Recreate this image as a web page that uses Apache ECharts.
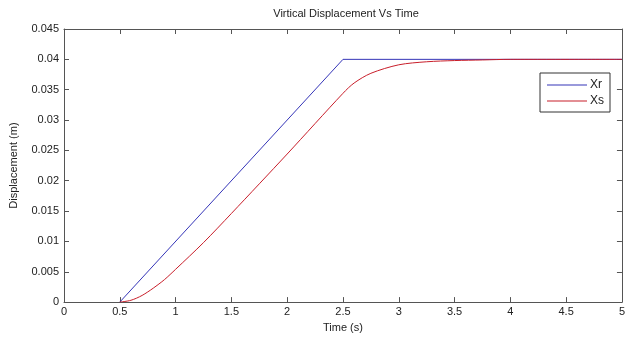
<!DOCTYPE html>
<html><head><meta charset="utf-8">
<script src="https://cdn.jsdelivr.net/npm/echarts@6/dist/echarts.min.js"></script>
<style>html,body{margin:0;padding:0;background:#fff}#c{width:628px;height:338px}</style>
</head><body><div id="c"></div>
<script>
const title = 'Virtical Displacement Vs Time';
const xName = 'Time (s)';
const yName = 'Displacement (m)';
const seriesNames = ['Xr', 'Xs'];
const xrT = [0.5, 2.5, 5];
const xrV = [0, 0.04, 0.04];
const xsT = [0.5, 0.6, 0.7, 0.8, 0.9, 1.0, 1.25, 1.5, 2.0, 2.5, 2.6, 2.75, 3.0, 3.25, 3.5, 3.75, 4.0, 5.0];
const xsV = [0, 0.0003, 0.0011, 0.0023, 0.0037, 0.0054, 0.0098, 0.0146, 0.0244, 0.0344, 0.0361, 0.0377, 0.0391, 0.0396, 0.0398, 0.0399, 0.04, 0.04];

const chart = echarts.init(document.getElementById('c'));
const fmt = v => String(parseFloat(v.toFixed(4)));
const axisColor = '#555';
const lab = {color: '#222', fontSize: 11, fontFamily: 'Liberation Sans, Arial'};
const tick = {show: true, inside: true, length: 5, lineStyle: {color: axisColor}};
const line = {show: true, onZero: false, lineStyle: {color: axisColor}};
chart.setOption({
  animation: false,
  backgroundColor: '#fff',
  title: {text: title, left: 341, top: 3, textAlign: 'center',
    textStyle: {fontSize: 11, fontWeight: 'normal', color: '#222', fontFamily: 'Liberation Sans, Arial'}},
  grid: {left: 61, right: 6, top: 29, bottom: 35},
  legend: {
    data: seriesNames, orient: 'vertical', left: 540, top: 73,
    icon: 'path://M0,0 L40,0 L40,1 L0,1 Z',
    itemWidth: 40, itemHeight: 1.2, itemGap: 4,
    borderColor: '#333', borderWidth: 1, padding: [6, 6, 5, 7],
    textStyle: {fontSize: 12, color: '#222', fontFamily: 'Liberation Sans, Arial', padding: [0, 0, 0, -2]}
  },
  xAxis: [
    {type: 'value', min: 0, max: 5, interval: 0.5, name: xName, nameLocation: 'middle', nameGap: 18,
     nameTextStyle: lab, axisLine: line, axisTick: tick,
     axisLabel: Object.assign({formatter: fmt, margin: 4}, lab), splitLine: {show: false}},
    {type: 'value', min: 0, max: 5, interval: 0.5, position: 'top',
     axisLine: line, axisTick: tick, axisLabel: {show: false}, splitLine: {show: false}}
  ],
  yAxis: [
    {type: 'value', min: 0, max: 0.045, interval: 0.005, name: yName, nameLocation: 'middle', nameGap: 45,
     nameTextStyle: lab, axisLine: line, axisTick: tick,
     axisLabel: Object.assign({formatter: fmt, margin: 5}, lab), splitLine: {show: false}},
    {type: 'value', min: 0, max: 0.045, interval: 0.005, position: 'right',
     axisLine: line, axisTick: tick, axisLabel: {show: false}, splitLine: {show: false}}
  ],
  series: [
    {name: seriesNames[0], type: 'line', symbol: 'none', color: '#3535b8',
     lineStyle: {width: 1, color: '#3535b8'}, data: xrT.map((t, i) => [t, xrV[i]])},
    {name: seriesNames[1], type: 'line', symbol: 'none', smooth: 0.3, color: '#c81e2a',
     lineStyle: {width: 1, color: '#c81e2a'}, data: xsT.map((t, i) => [t, xsV[i]])}
  ]
});
</script></body></html>
